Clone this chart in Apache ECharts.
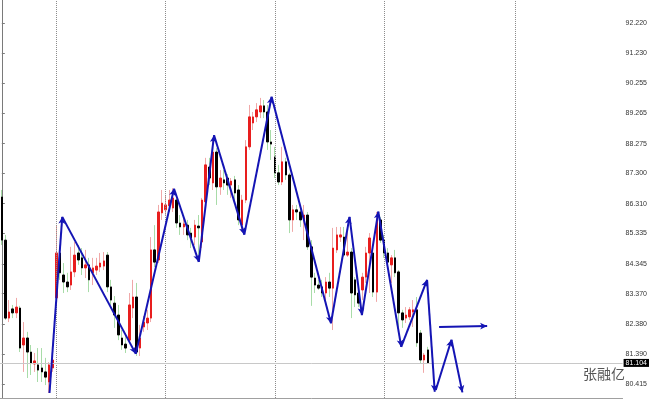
<!DOCTYPE html>
<html>
<head>
<meta charset="utf-8">
<script src="https://cdn.jsdelivr.net/npm/echarts@6/dist/echarts.min.js"></script>
<style>html,body{margin:0;padding:0;background:#fff;}#c{width:650px;height:400px;}</style>
</head>
<body>
<div id="c"></div>
<script>
// ---- data ----
const barCount = 171;
const categories = Array.from({length: barCount}, (_, i) => String(i));

const opens = [
86.53, 85.12, 82.57, 82.87, 82.74, 82.90, 81.69, 81.92, 81.46, 81.07,
81.04, 80.94, 80.81, 80.48, 80.94, 83.23, 84.70, 83.98, 83.75, 83.65,
84.08, 84.70, 84.54, 84.21, 84.31, 84.05, 84.14, 84.24, 84.27, 84.63,
83.59, 83.06, 82.67, 81.92, 81.72, 81.85, 82.90, 83.26, 81.59, 82.28,
82.41, 82.57, 84.80, 84.47, 86.01, 86.11, 86.24, 86.17, 86.43, 85.68,
85.55, 85.61, 85.35, 85.22, 85.58, 85.06, 86.37, 87.51, 86.99, 88.00,
86.86, 87.09, 87.15, 86.92, 87.09, 86.76, 85.61, 86.43, 88.17, 88.95,
89.15, 89.31, 89.51, 89.31, 88.33, 87.84, 87.32, 87.02, 87.68, 87.25,
85.78, 86.11, 86.04, 85.78, 85.94, 84.90, 83.88, 83.65, 83.59, 83.39,
83.75, 83.55, 84.80, 85.22, 85.22, 84.63, 84.73, 83.82, 83.39, 83.49,
83.91, 84.70, 84.70, 83.42, 85.78, 85.12, 84.70, 84.31, 84.54, 84.08,
82.74, 82.57, 82.61, 82.77, 82.84, 82.08, 81.20, 81.53
];
const closes = [
85.12, 82.57, 82.77, 82.74, 82.93, 81.59, 81.92, 81.46, 81.10, 81.17,
80.87, 80.81, 80.64, 81.04, 81.20, 84.70, 84.05, 83.75, 83.59, 84.08,
84.63, 84.47, 84.21, 84.31, 83.82, 84.21, 84.27, 84.37, 84.44, 83.59,
83.16, 82.67, 82.02, 81.69, 81.59, 83.00, 83.26, 81.46, 81.92, 82.44,
82.57, 84.80, 84.40, 86.04, 86.33, 86.27, 86.43, 86.50, 85.68, 85.55,
85.65, 85.29, 85.19, 85.61, 85.52, 86.43, 87.58, 87.15, 88.00, 86.86,
87.15, 86.99, 86.92, 87.05, 86.66, 85.78, 86.43, 88.17, 89.15, 89.15,
89.38, 89.51, 89.31, 88.33, 88.26, 87.32, 87.02, 87.68, 87.25, 85.78,
86.11, 86.04, 85.78, 85.94, 84.90, 83.91, 83.65, 83.55, 83.39, 83.75,
83.55, 84.86, 85.29, 85.29, 84.63, 84.73, 83.39, 83.33, 83.06, 83.91,
84.70, 85.19, 83.42, 85.78, 85.12, 84.70, 84.40, 84.54, 84.05, 82.74,
82.51, 82.67, 82.84, 82.84, 81.76, 81.20, 81.36, 81.104
];
const lows = [
84.96, 82.51, 82.44, 82.57, 82.57, 81.46, 80.81, 80.61, 80.71, 80.81,
80.48, 80.48, 80.38, 80.12, 80.81, 83.00, 83.82, 83.39, 83.42, 83.49,
83.91, 84.31, 83.98, 83.88, 83.42, 83.65, 83.98, 84.08, 84.14, 83.42,
83.00, 82.25, 81.85, 81.53, 81.43, 81.76, 82.57, 81.33, 81.33, 82.12,
82.18, 82.44, 84.24, 84.37, 85.78, 85.94, 86.04, 86.04, 85.52, 85.29,
85.29, 85.12, 84.86, 84.96, 84.47, 84.86, 86.27, 86.92, 86.76, 86.27,
86.60, 86.76, 86.60, 86.50, 86.43, 85.61, 85.39, 86.33, 88.07, 88.72,
88.98, 89.11, 89.11, 88.07, 87.74, 87.15, 86.92, 86.92, 87.09, 85.35,
85.39, 85.78, 85.55, 85.12, 84.80, 82.97, 83.39, 83.49, 83.26, 83.16,
83.26, 82.18, 84.70, 85.06, 84.57, 84.57, 82.57, 82.93, 82.93, 83.16,
83.72, 83.39, 83.26, 83.10, 85.03, 84.54, 84.24, 83.72, 83.91, 82.28,
82.25, 82.41, 82.51, 82.28, 81.63, 81.10, 80.78, 81.08
];
const highs = [
86.76, 85.29, 83.16, 83.00, 83.23, 82.97, 82.44, 82.12, 81.69, 81.43,
81.59, 81.59, 81.27, 81.13, 81.36, 85.61, 84.80, 84.37, 84.05, 84.90,
85.06, 84.96, 84.86, 84.80, 84.54, 84.54, 84.54, 84.70, 84.73, 84.73,
83.82, 83.29, 83.00, 82.18, 81.99, 83.39, 83.82, 83.72, 82.35, 82.64,
82.84, 85.22, 85.61, 86.27, 86.76, 86.60, 86.76, 86.82, 86.60, 85.94,
85.84, 85.78, 85.52, 85.78, 85.94, 86.50, 87.81, 87.81, 88.39, 88.13,
87.41, 87.41, 87.28, 87.15, 87.22, 86.92, 86.60, 88.39, 89.54, 89.31,
89.60, 89.77, 89.70, 89.54, 88.72, 88.17, 87.58, 88.17, 87.81, 87.32,
86.27, 86.27, 86.20, 86.27, 86.04, 85.12, 84.05, 83.82, 83.82, 83.91,
84.05, 85.52, 85.55, 85.55, 85.55, 85.52, 84.86, 83.91, 83.49, 84.05,
84.90, 85.35, 84.90, 86.04, 85.88, 85.29, 84.86, 84.63, 84.80, 84.14,
82.84, 82.93, 82.93, 83.16, 83.26, 82.18, 81.43, 81.63
];

// zigzag (bar index, price)
const zigX = [13.1, 16.6, 36.8, 47.3, 54.1, 58.3, 66.6, 74.1, 90.4, 95.5, 98.9, 103.4, 109.7, 116.8, 118.9];
const zigY = [80.12, 85.88, 81.40, 86.80, 84.41, 88.55, 85.30, 89.81, 82.40, 85.88, 82.67, 86.05, 81.63, 83.82, 80.16];
// forecast zigzag
const fcX = [119.2, 123.5, 126.5];
const fcY = [80.22, 81.86, 80.14];
// horizontal arrow
const hX = [120.1, 133.3];
const hY = [82.28, 82.31];

const separators = [15, 45, 75, 105, 141];
const tickValues = [92.220, 91.230, 90.255, 89.265, 88.275, 87.300, 86.310, 85.335, 84.345, 83.370, 82.380, 81.390, 80.415];
const currentPrice = 81.104;
const yMin = 79.957, yMax = 92.972;

// ---- build ----
const wickData = opens.map((o, i) => [o, closes[i], lows[i], highs[i]]);
const bodyData = opens.map((o, i) => [o, closes[i], Math.min(o, closes[i]), Math.max(o, closes[i])]);

function segs(xs, ys) {
  const out = [];
  for (let i = 0; i < xs.length - 1; i++) {
    out.push([{coord: [xs[i], ys[i]]}, {coord: [xs[i + 1], ys[i + 1]]}]);
  }
  return out;
}
const blue = '#1414b4';
const allSegs = segs(zigX, zigY).concat(segs(fcX, fcY)).concat(segs(hX, hY));

const chart = echarts.init(document.getElementById('c'), null, {renderer: 'canvas'});
chart.setOption({
  animation: false,
  backgroundColor: '#fff',
  grid: {left: -2, right: 23, top: 0, bottom: 2, containLabel: false},
  xAxis: [
    {type: 'category', data: categories, boundaryGap: true,
     axisLine: {show: true, lineStyle: {color: '#a0a0a0', width: 1}},
     axisTick: {show: false}, axisLabel: {show: false}, splitLine: {show: false}},
    {type: 'value', min: -0.5, max: barCount - 0.5, show: false}
  ],
  yAxis: {
    type: 'value', position: 'right', min: yMin, max: yMax, scale: true,
    axisLine: {show: true, lineStyle: {color: '#7a7a7a', width: 1}},
    axisTick: {show: true, length: 3, lineStyle: {color: '#7a7a7a'}, customValues: tickValues},
    axisLabel: {show: true, customValues: tickValues, formatter: v => Number(v).toFixed(3),
      fontSize: 7, color: '#333', margin: 3, fontFamily: 'Liberation Sans'},
    splitLine: {show: false}
  },
  series: [
    {type: 'line', xAxisIndex: 1, data: [], silent: true,
     markLine: {silent: true, symbol: ['none', 'none'], label: {show: false},
       lineStyle: {color: '#8c8c8c', type: 'dotted', width: 1},
       data: separators.map(v => ({xAxis: v}))}},
    {type: 'candlestick', name: 'wick', data: wickData, barWidth: 1, silent: true,
     itemStyle: {color: '#f0a8a8', color0: '#a8dca8', borderColor: '#f0a8a8', borderColor0: '#a8dca8', borderWidth: 1},
     markLine: {silent: true, symbol: ['none', 'none'], precision: 3,
       lineStyle: {color: '#c8c8c8', type: 'solid', width: 1},
       label: {show: true, position: 'end', distance: 1, formatter: p => Number(p.value).toFixed(3),
         backgroundColor: '#000', color: '#fff', fontSize: 7, padding: [1, 2, 0, 2], fontFamily: 'Liberation Sans'},
       data: [{yAxis: currentPrice}]}},
    {type: 'candlestick', name: 'body', data: bodyData, barWidth: 2, silent: true,
     itemStyle: {color: '#e81e1e', color0: '#000', borderColor: '#e81e1e', borderColor0: '#000', borderWidth: 1}},
    {type: 'line', xAxisIndex: 1, data: [], silent: true, z: 5,
     markLine: {silent: true, symbol: ['none', 'arrow'], symbolSize: [5, 7], label: {show: false},
       lineStyle: {color: blue, type: 'solid', width: 2},
       data: allSegs}}
  ],
  graphic: [
    {type: 'text', right: 25, top: 367, silent: true,
     style: {text: '张融亿', font: '14px "Noto Sans CJK SC"', fill: '#555'}}
  ]
});
</script>
</body>
</html>
